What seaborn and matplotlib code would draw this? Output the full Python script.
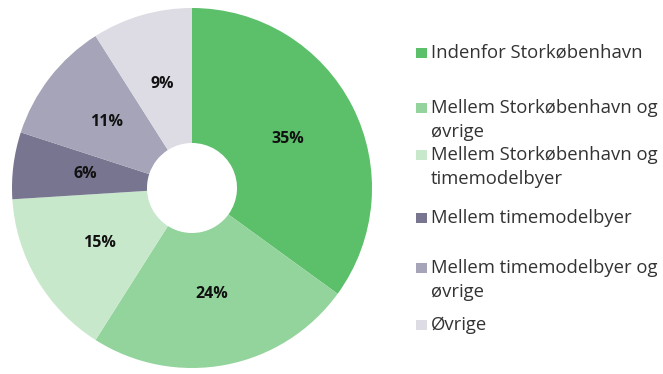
import matplotlib
matplotlib.use("Agg")
import matplotlib.pyplot as plt
import seaborn as sns
from matplotlib.patches import Rectangle

# Andel af ture fordelt på strækningstype
categories = [
    "Indenfor Storkøbenhavn",
    "Mellem Storkøbenhavn og\nøvrige",
    "Mellem Storkøbenhavn og\ntimemodelbyer",
    "Mellem timemodelbyer",
    "Mellem timemodelbyer og\nøvrige",
    "Øvrige",
]
shares = [35, 24, 15, 6, 11, 9]
colors = ["#5cbf6a", "#93d49c", "#c8e8cb", "#77758f", "#a5a4b8", "#dddce4"]

sns.set_theme(style="white")
plt.rcParams["font.family"] = ["Open Sans", "DejaVu Sans"]

W, H = 663, 374
fig = plt.figure(figsize=(W / 100, H / 100), dpi=100)
fig.patch.set_facecolor("white")

# Donut chart
cx, cy, r = 192, 188, 180
ax = fig.add_axes([(cx - r) / W, (H - cy - r) / H, 2 * r / W, 2 * r / H])
wedges, _, autotexts = ax.pie(
    shares,
    colors=colors,
    startangle=90,
    counterclock=False,
    radius=1.0,
    autopct=lambda p: f"{p:.0f}%",
    pctdistance=0.6,
    wedgeprops=dict(width=0.75, linewidth=0),
    textprops=dict(fontsize=11.5, fontweight="bold", color="#111111"),
)
ax.set_xlim(-1, 1)
ax.set_ylim(-1, 1)
ax.set_aspect("equal")
ax.axis("off")

# Legend drawn in pixel coordinates
lax = fig.add_axes([0, 0, 1, 1])
lax.set_xlim(0, W)
lax.set_ylim(H, 0)
lax.axis("off")
first_line_y = [53, 108, 155, 218, 268, 325]
for label, col, y in zip(categories, colors, first_line_y):
    lax.add_patch(Rectangle((416, y - 5), 11, 10, facecolor=col, edgecolor="none"))
    lax.text(431, y - 9, label, va="top", ha="left",
             fontsize=13.3, color="#333333", linespacing=1.4)

fig.savefig("out.png", dpi=100, facecolor="white")
